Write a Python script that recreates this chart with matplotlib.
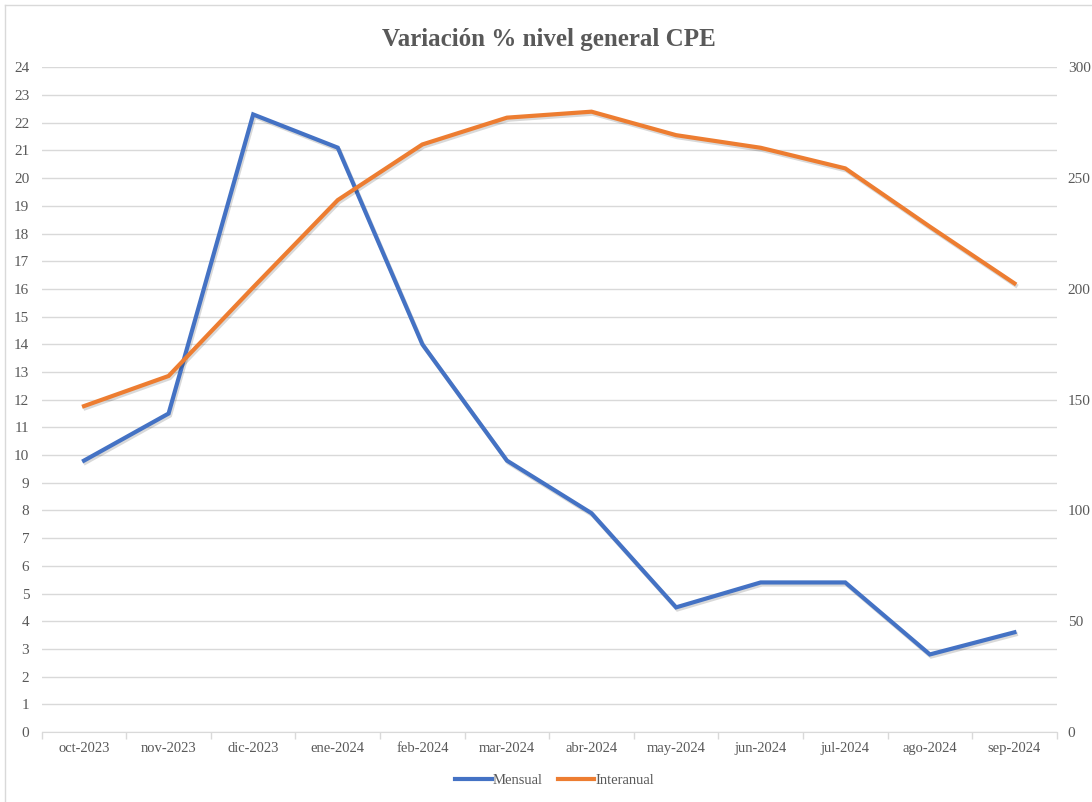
import numpy as np
import matplotlib.pyplot as plt
from matplotlib.lines import Line2D
import matplotlib.patheffects as pe

plt.rcParams['font.family'] = ['Liberation Serif', 'DejaVu Serif']

meses = ['oct-2023', 'nov-2023', 'dic-2023', 'ene-2024', 'feb-2024', 'mar-2024',
         'abr-2024', 'may-2024', 'jun-2024', 'jul-2024', 'ago-2024', 'sep-2024']
mensual = [9.8, 11.5, 22.3, 21.1, 14.0, 9.8, 7.9, 4.5, 5.4, 5.4, 2.8, 3.6]
interanual = [147.1, 160.7, 200.7, 240.1, 265.2, 277.3, 280.0, 269.4, 263.7, 254.4, 228.1, 202.5]

BLUE = '#4472C4'
ORANGE = '#ED7D31'
GREY = '#595959'
GRID = '#D9D9D9'

fig = plt.figure(figsize=(10.92, 8.02), dpi=100)
ax = fig.add_axes([0.0382, 0.0873, 0.9295, 0.8287])
ax2 = ax.twinx()

x = np.arange(len(meses))
shadow = [pe.SimpleLineShadow(offset=(1, -1.5), alpha=0.15, shadow_color='k'), pe.Normal()]
ax.plot(x, mensual, color=BLUE, lw=3.0, solid_joinstyle='miter', path_effects=shadow, zorder=3)
ax2.plot(x, interanual, color=ORANGE, lw=3.0, solid_joinstyle='miter', path_effects=shadow, zorder=3)

ax.set_xlim(-0.5, len(meses) - 0.5)
ax.set_ylim(0, 24)
ax2.set_ylim(0, 300)
ax.set_yticks(range(0, 25))
ax2.set_yticks(range(0, 301, 50))

ax.grid(axis='y', color=GRID, lw=1.0)
ax.set_axisbelow(True)

ax.set_xticks(x)
ax.set_xticklabels(meses)
ax.set_xticks(np.arange(-0.5, len(meses)), minor=True)
ax.tick_params(axis='x', which='major', length=0, pad=7, labelsize=10.5, labelcolor=GREY)
ax.tick_params(axis='x', which='minor', length=5, color=GRID, width=1)
ax.tick_params(axis='y', length=0, pad=9, labelsize=11, labelcolor=GREY)
ax2.tick_params(axis='y', length=0, pad=8, labelsize=11, labelcolor=GREY)

for a in (ax, ax2):
    for s in ['top', 'left', 'right']:
        a.spines[s].set_visible(False)
    a.spines['bottom'].set_color(GRID)
ax2.spines['bottom'].set_visible(False)

fig.text(0.503, 0.951, 'Variación % nivel general CPE', ha='center', va='center',
         fontsize=18, fontweight='bold', color=GREY)

handles = [Line2D([], [], color=BLUE, lw=3.0), Line2D([], [], color=ORANGE, lw=3.0)]
fig.legend(handles, ['Mensual', 'Interanual'], loc='center', bbox_to_anchor=(0.508, 0.027),
           ncol=2, frameon=False, handlelength=2.5, handletextpad=0.1, columnspacing=1.0,
           prop={'size': 10.5}, labelcolor=GREY)

# light frame at the top and left edge, as in the source image
fig.add_artist(Line2D([5 / 1092, 1], [1 - 5 / 802, 1 - 5 / 802], transform=fig.transFigure, color=GRID, lw=1))
fig.add_artist(Line2D([5 / 1092, 5 / 1092], [0, 1 - 5 / 802], transform=fig.transFigure, color=GRID, lw=1))

fig.savefig('out.png', dpi=100)
